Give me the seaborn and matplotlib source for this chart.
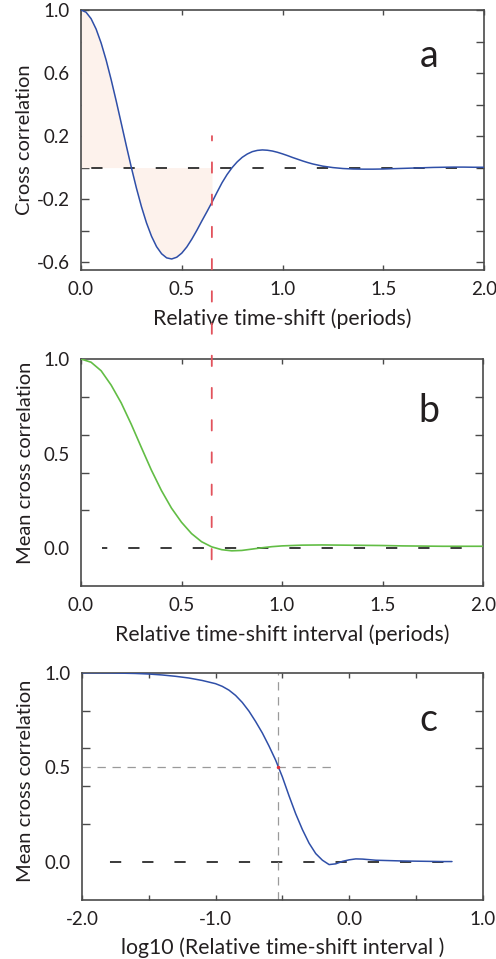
import numpy as np
import pandas as pd
import matplotlib
matplotlib.use("Agg")
import matplotlib.pyplot as plt
import seaborn as sns
from matplotlib.patches import ConnectionPatch

# ---------------- data ----------------
shift_a = [0.000, 0.025, 0.050, 0.075, 0.100, 0.125, 0.150, 0.175, 0.200, 0.225,
           0.250, 0.275, 0.300, 0.325, 0.350, 0.375, 0.400, 0.425, 0.450, 0.475,
           0.500, 0.525, 0.550, 0.575, 0.600, 0.625, 0.650, 0.675, 0.700, 0.725,
           0.750, 0.775, 0.800, 0.825, 0.850, 0.875, 0.900, 0.925, 0.950, 0.975,
           1.000, 1.025, 1.050, 1.075, 1.100, 1.125, 1.150, 1.175, 1.200, 1.250,
           1.300, 1.350, 1.400, 1.450, 1.500, 1.550, 1.600, 1.650, 1.700, 1.750,
           1.800, 1.850, 1.900, 1.950, 2.000]
corr_a = [1.000, 0.986, 0.945, 0.879, 0.790, 0.681, 0.556, 0.421, 0.280, 0.138,
          0.000, -0.130, -0.248, -0.351, -0.436, -0.502, -0.547, -0.573, -0.580, -0.569,
          -0.543, -0.504, -0.454, -0.398, -0.338, -0.280, -0.220, -0.157, -0.096, -0.044,
          0.000, 0.036, 0.065, 0.086, 0.101, 0.109, 0.112, 0.110, 0.105, 0.097,
          0.087, 0.076, 0.064, 0.053, 0.042, 0.032, 0.023, 0.016, 0.009, 0.000,
          -0.006, -0.009, -0.010, -0.010, -0.009, -0.007, -0.005, -0.003, -0.001, 0.001,
          0.002, 0.003, 0.003, 0.002, 0.002]

interval_b = [0.00, 0.05, 0.10, 0.15, 0.20, 0.25, 0.30, 0.35, 0.40, 0.45,
              0.50, 0.55, 0.60, 0.65, 0.70, 0.75, 0.80, 0.85, 0.90, 0.95,
              1.00, 1.10, 1.20, 1.30, 1.40, 1.50, 1.60, 1.70, 1.80, 1.90, 2.00]
mean_b = [1.000, 0.983, 0.938, 0.862, 0.768, 0.655, 0.533, 0.413, 0.305, 0.212,
          0.137, 0.077, 0.034, 0.007, -0.008, -0.014, -0.012, -0.005, 0.002, 0.008,
          0.012, 0.016, 0.017, 0.016, 0.015, 0.014, 0.012, 0.011, 0.010, 0.010, 0.010]

log_interval_c = [-2.00, -1.80, -1.60, -1.50, -1.40, -1.30, -1.20, -1.10, -1.00, -0.95,
                  -0.90, -0.85, -0.80, -0.75, -0.70, -0.65, -0.60, -0.55, -0.50, -0.45,
                  -0.40, -0.35, -0.30, -0.25, -0.20, -0.15, -0.10, -0.05, 0.00, 0.05,
                  0.10, 0.20, 0.30, 0.40, 0.50, 0.60, 0.70, 0.77]
mean_c = [1.000, 0.999, 0.996, 0.993, 0.988, 0.981, 0.972, 0.959, 0.942, 0.928,
          0.908, 0.880, 0.843, 0.797, 0.742, 0.682, 0.613, 0.538, 0.450, 0.350,
          0.255, 0.172, 0.100, 0.045, 0.010, -0.013, -0.009, 0.004, 0.012, 0.017,
          0.016, 0.010, 0.008, 0.006, 0.005, 0.004, 0.003, 0.003]

fill_end = 0.65          # shaded area / red marker position (periods)
half_log = -0.53         # log10 interval where mean correlation = 0.5
half_level = 0.5

ticks_a_y = [-0.6, -0.4, -0.2, 0.0, 0.2, 0.4, 0.6, 0.8, 1.0]
labels_a_y = ["-0.6", "", "-0.2", "", "0.2", "", "0.6", "", "1.0"]
ticks_x_ab = [0.0, 0.5, 1.0, 1.5, 2.0]
labels_x_ab = ["0.0", "0.5", "1.0", "1.5", "2.0"]
ticks_bc_y_minor = [0.0, 0.2, 0.4, 0.6, 0.8, 1.0]
ticks_bc_y = [0.0, 0.5, 1.0]
labels_bc_y = ["0.0", "0.5", "1.0"]
ticks_c_x = [-2.0, -1.5, -1.0, -0.5, 0.0, 0.5, 1.0]
labels_c_x = ["-2.0", "", "-1.0", "", "0.0", "", "1.0"]

# ---------------- style ----------------
sns.set_theme(style="ticks")
plt.rcParams["font.family"] = ["Lato", "DejaVu Sans"]
plt.rcParams["lines.scale_dashes"] = False
plt.rcParams["axes.unicode_minus"] = False

BLUE = "#2f4fa8"
GREEN = "#62bd45"
RED = "#e2525c"
PEACH = "#fdf2ec"
TXT = "#231f20"
SPINE = "#4a4a4a"
TICK_FS = 13.5
YLABEL_FS = 14.5
XLABEL_FS = 15.3
LETTER_FS = 27

W, H = 496, 959
fig = plt.figure(figsize=(W / 100, H / 100), dpi=100)


def rect(l, t, r, b):
    return [l / W, 1 - b / H, (r - l) / W, (b - t) / H]


ax_a = fig.add_axes(rect(81, 10, 484, 270))
ax_b = fig.add_axes(rect(81, 359, 483, 586))
ax_c = fig.add_axes(rect(82, 672.7, 482.7, 900))


def style(ax):
    for s in ax.spines.values():
        s.set_color(SPINE)
        s.set_linewidth(1.2)
        s.set_visible(True)
    ax.tick_params(which="both", direction="in", top=True, right=True,
                   color=SPINE, width=1.0, labelcolor=TXT, labelsize=TICK_FS, pad=8)
    ax.tick_params(axis="y", which="both", length=5.5)
    ax.tick_params(axis="x", which="both", length=3.5)


# ---------------- panel a ----------------
df_a = pd.DataFrame({"shift": shift_a, "corr": corr_a})
sa = np.array(shift_a)
ca = np.array(corr_a)
m = sa <= fill_end + 1e-9
ax_a.fill_between(sa[m], ca[m], 0, color=PEACH, lw=0, zorder=1)
ax_a.axhline(0, color="#3a3a3a", lw=1.4, ls=(15.8, (8.1, 15.1)), zorder=2)
sns.lineplot(data=df_a, x="shift", y="corr", ax=ax_a, color=BLUE, lw=1.1,
             estimator=None, sort=False, zorder=3)
ax_a.set_xlim(0, 2)
ax_a.set_ylim(-0.65, 1.0)
ax_a.set_yticks(ticks_a_y)
ax_a.set_yticklabels(labels_a_y)
ax_a.set_xticks(ticks_x_ab)
ax_a.set_xticklabels(labels_x_ab)
style(ax_a)
ax_a.set_xlabel("Relative time-shift (periods)", fontsize=XLABEL_FS, color=TXT)
ax_a.set_ylabel("Cross correlation", fontsize=YLABEL_FS, color=TXT)
ax_a.xaxis.set_label_coords(0.5, -0.146)
ax_a.yaxis.set_label_coords(-0.118, 0.5)
ax_a.text(0.8635, 0.782, "a", transform=ax_a.transAxes, fontsize=LETTER_FS,
          ha="center", va="baseline", color=TXT)

# ---------------- panel b ----------------
df_b = pd.DataFrame({"interval": interval_b, "mean": mean_b})
ax_b.axhline(0, xmin=0.052, xmax=1, color="#3a3a3a", lw=1.4,
             ls=(4.3, (8.1, 15.1)), zorder=2)
sns.lineplot(data=df_b, x="interval", y="mean", ax=ax_b, color=GREEN, lw=1.2,
             estimator=None, sort=False, zorder=3)
ax_b.set_xlim(0, 2)
ax_b.set_ylim(-0.2, 1.0)
ax_b.set_xticks(ticks_x_ab)
ax_b.set_xticklabels(labels_x_ab)
ax_b.set_yticks(ticks_bc_y)
ax_b.set_yticklabels(labels_bc_y)
ax_b.set_yticks(ticks_bc_y_minor, minor=True)
style(ax_b)
ax_b.tick_params(axis="y", which="major", length=0)
ax_b.set_xlabel("Relative time-shift interval (periods)", fontsize=XLABEL_FS, color=TXT)
ax_b.set_ylabel("Mean cross correlation", fontsize=YLABEL_FS, color=TXT)
ax_b.xaxis.set_label_coords(0.5, -0.167)
ax_b.yaxis.set_label_coords(-0.118, 0.544)
ax_b.text(0.866, 0.724, "b", transform=ax_b.transAxes, fontsize=LETTER_FS,
          ha="center", va="baseline", color=TXT)

# red dashed marker crossing panels a and b
con = ConnectionPatch(xyA=(fill_end, 0.2), coordsA=ax_a.transData,
                      xyB=(fill_end, -0.06), coordsB=ax_b.transData,
                      color=RED, lw=1.3, ls=(4.3, (7.5, 15.7)), zorder=5)
fig.add_artist(con)

# ---------------- panel c ----------------
df_c = pd.DataFrame({"logint": log_interval_c, "mean": mean_c})
x_end = log_interval_c[-1]
ax_c.axhline(0, xmin=0.0167, xmax=(x_end + 2) / 3, color="#3a3a3a", lw=1.4,
             ls=(8.1, (8.1, 15.1)), zorder=2)
ax_c.axvline(half_log, color="#9a9a9a", lw=0.9, ls=(0, (6, 4.8)), zorder=2)
ax_c.axhline(half_level, xmin=0, xmax=(-0.12 + 2) / 3, color="#9a9a9a", lw=0.9,
             ls=(0, (6, 4.8)), zorder=2)
sns.lineplot(data=df_c, x="logint", y="mean", ax=ax_c, color=BLUE, lw=1.1,
             estimator=None, sort=False, zorder=3)
ax_c.plot([half_log], [half_level], marker="o", ms=1.5, color="#e0303a", zorder=4)
ax_c.set_xlim(-2, 1)
ax_c.set_ylim(-0.2, 1.0)
ax_c.set_xticks(ticks_c_x)
ax_c.set_xticklabels(labels_c_x)
ax_c.set_yticks(ticks_bc_y)
ax_c.set_yticklabels(labels_bc_y)
ax_c.set_yticks(ticks_bc_y_minor, minor=True)
style(ax_c)
ax_c.tick_params(axis="y", which="major", length=0)
ax_c.set_xlabel("log10 (Relative time-shift interval )", fontsize=XLABEL_FS, color=TXT)
ax_c.set_ylabel("Mean cross correlation", fontsize=YLABEL_FS, color=TXT)
ax_c.xaxis.set_label_coords(0.5, -0.163)
ax_c.yaxis.set_label_coords(-0.121, 0.524)
ax_c.text(0.8635, 0.7435, "c", transform=ax_c.transAxes, fontsize=LETTER_FS,
          ha="center", va="baseline", color=TXT)

fig.savefig("out.png", dpi=100, facecolor="white")
